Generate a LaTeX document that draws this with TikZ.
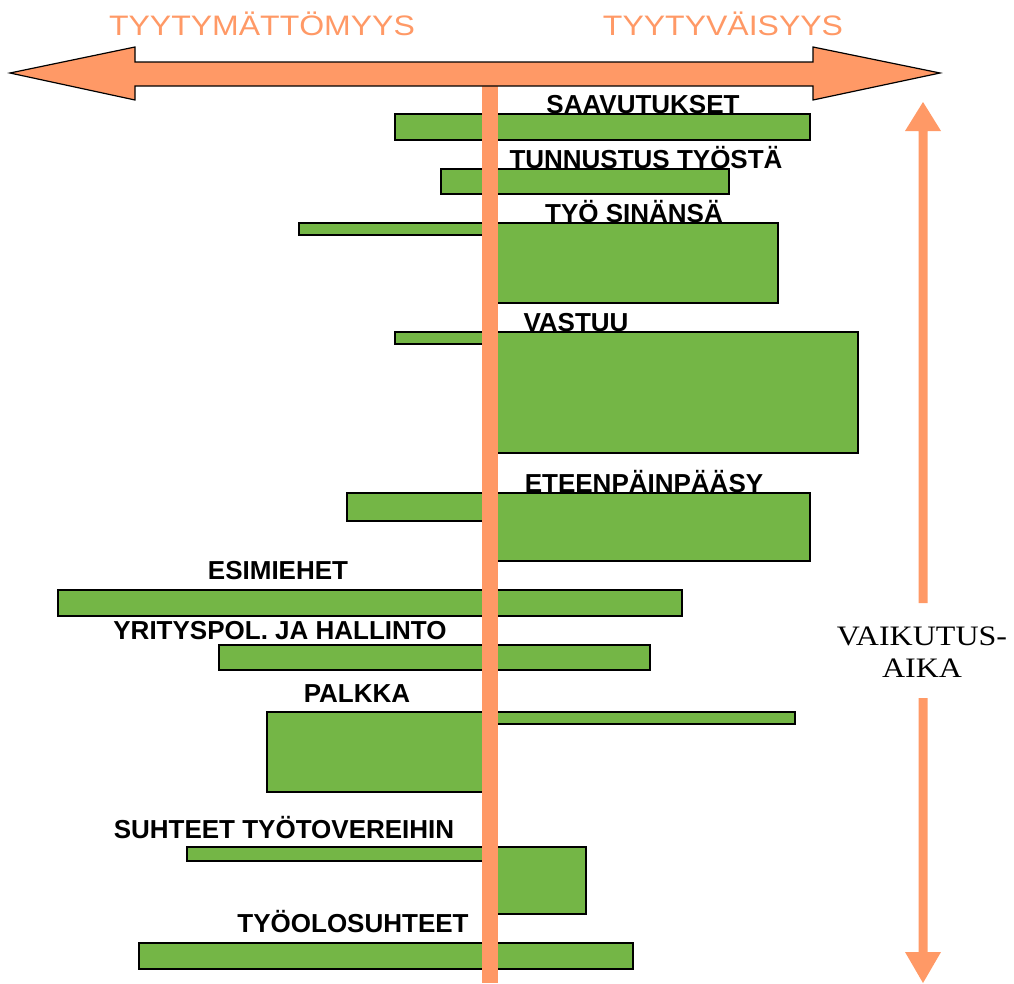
\documentclass[tikz,border=0pt]{standalone}
\usepackage{fontspec}
\setmainfont{Liberation Sans}
\newfontfamily\timesfont{Liberation Serif}
\definecolor{salmon}{RGB}{255,153,102}
\definecolor{leaf}{RGB}{116,182,70}
\begin{document}
\begin{tikzpicture}[x=1pt,y=-1pt,
  bar/.style={fill=leaf,draw=black,line width=1.3pt},
  lab/.style={font=\fontsize{26}{28}\selectfont\bfseries,anchor=base,inner sep=0pt},
  polelab/.style={font=\fontsize{32}{34}\selectfont,text=salmon,anchor=base,inner sep=0pt},
  axis/.style={fill=salmon}]
\useasboundingbox (0,0) rectangle (1014,983);

% axis captions
\node[polelab] (neg) at (262,35) {\scalebox{1}[0.88]{TYYTYMÄTTÖMYYS}};
\node[polelab] (pos) at (723,35) {\scalebox{1}[0.88]{TYYTYVÄISYYS}};

% factor labels
\node[lab] (l1)  at (643,113) {SAAVUTUKSET};
\node[lab] (l2)  at (646,168) {TUNNUSTUS TYÖSTÄ};
\node[lab] (l3)  at (634,222) {TYÖ SINÄNSÄ};
\node[lab] (l4)  at (576,331) {VASTUU};
\node[lab] (l5)  at (644,492) {ETEENPÄINPÄÄSY};
\node[lab] (l6)  at (278,579) {ESIMIEHET};
\node[lab] (l7)  at (280,639) {YRITYSPOL. JA HALLINTO};
\node[lab] (l8)  at (357,702) {PALKKA};
\node[lab] (l9)  at (284,838) {SUHTEET TYÖTOVEREIHIN};
\node[lab] (l10) at (353,932) {TYÖOLOSUHTEET};

% bars: left part = dissatisfaction, right part = satisfaction
\draw[bar] (395,114) rectangle (810,140);
\draw[bar] (441,169) rectangle (729,194);
\draw[bar] (299,223) rectangle (490,235);
\draw[bar] (490,223) rectangle (778,303);
\draw[bar] (395,332) rectangle (490,344);
\draw[bar] (490,332) rectangle (858,453);
\draw[bar] (347,493) rectangle (490,521);
\draw[bar] (490,493) rectangle (810,561);
\draw[bar] (58,590) rectangle (682,616);
\draw[bar] (219,645) rectangle (650,670);
\draw[bar] (267,712) rectangle (490,792);
\draw[bar] (490,712) rectangle (795,724);
\draw[bar] (187,847) rectangle (490,861);
\draw[bar] (490,847) rectangle (586,914);
\draw[bar] (139,943) rectangle (633,969);

% neutral axis
\fill[salmon] (482,80) rectangle (498,983);

% horizontal double arrow
\draw[axis,draw=black,line width=1.2pt,line join=miter]
  (10,73) -- (135,47) -- (135,62) -- (813,62) -- (813,47) -- (940,73)
  -- (813,100) -- (813,86) -- (135,86) -- (135,100) -- cycle;

% duration arrow
\coordinate (up) at (923,102);
\coordinate (down) at (923,983);
\fill[salmon] (up) -- (941,131) -- (927.5,131) -- (927.5,603) -- (918.5,603)
  -- (918.5,131) -- (905,131) -- cycle;
\fill[salmon] (down) -- (941,952) -- (927.5,952) -- (927.5,698) -- (918.5,698)
  -- (918.5,952) -- (905,952) -- cycle;
\node[anchor=base,inner sep=0pt,font=\timesfont\fontsize{32}{34}\selectfont] (dur1) at (922,645) {\scalebox{1}[0.88]{VAIKUTUS-}};
\node[anchor=base,inner sep=0pt,font=\timesfont\fontsize{32}{34}\selectfont] (dur2) at (922,677) {\scalebox{1}[0.88]{AIKA}};
\end{tikzpicture}
\end{document}
